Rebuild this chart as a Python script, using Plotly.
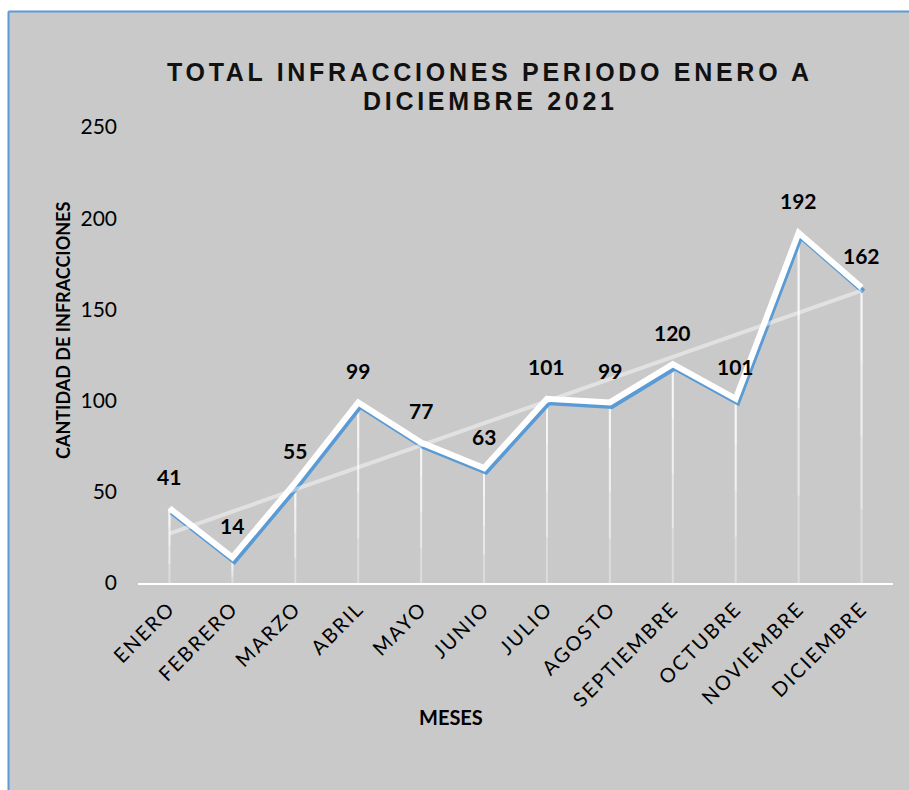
import numpy as np
import plotly.graph_objects as go

# ---- data ----
months = ["ENERO", "FEBRERO", "MARZO", "ABRIL", "MAYO", "JUNIO", "JULIO",
          "AGOSTO", "SEPTIEMBRE", "OCTUBRE", "NOVIEMBRE", "DICIEMBRE"]
infracciones = [41, 14, 55, 99, 77, 63, 101, 99, 120, 101, 192, 162]
y_ticks = [0, 50, 100, 150, 200, 250]
title_lines = ["TOTAL INFRACCIONES PERIODO ENERO A", "DICIEMBRE 2021"]
x_title = "MESES"
y_title = "CANTIDAD DE INFRACCIONES"

# ---- layout geometry ----
W, H = 909, 790
ML, MR, MT, MB = 138, 16, 127, 207
PW, PH = W - ML - MR, H - MT - MB
BG = "#c9c9c9"
BLUE = "#5b9bd5"
FONT = "Lato, 'Open Sans', sans-serif"


def px_x(px):
    return (px - ML) / PW


def px_y(py):
    return (H - MB - py) / PH


n = len(months)
idx = np.arange(n)
slope, intercept = np.polyfit(idx, infracciones, 1)
trend = slope * idx + intercept

yr = [0, 250]
xr = [-0.5, n - 0.5]
# shadow offset (pixels) expressed via axis ranges
sdx, sdy = 2.0, 4.0
xr_sh = [xr[0] - sdx * (n / PW), xr[1] - sdx * (n / PW)]
yr_sh = [yr[0] + sdy * (250 / PH), yr[1] + sdy * (250 / PH)]

fig = go.Figure()

# drop lines (fading towards the axis) - layered error bars
vals = np.array(infracciones, dtype=float)
for frac in [1.0, 0.75, 0.5, 0.25]:
    fig.add_trace(go.Scatter(
        x=months, y=infracciones, mode="markers",
        marker=dict(size=1, color="rgba(0,0,0,0)"),
        error_y=dict(type="data", symmetric=False, array=[0] * n,
                     arrayminus=list(vals * frac), color="rgba(255,255,255,0.35)",
                     thickness=2, width=0),
        hoverinfo="skip", showlegend=False, xaxis="x", yaxis="y"))

# blue shadow line
fig.add_trace(go.Scatter(
    x=months, y=infracciones, mode="lines",
    line=dict(color=BLUE, width=5), showlegend=False,
    xaxis="x2", yaxis="y2", hoverinfo="skip"))

# white main line
fig.add_trace(go.Scatter(
    x=months, y=infracciones, mode="lines",
    line=dict(color="white", width=6), showlegend=False,
    xaxis="x3", yaxis="y3"))

# linear trendline
fig.add_trace(go.Scatter(
    x=months, y=list(trend), mode="lines",
    line=dict(color="rgba(255,255,255,0.45)", width=4), showlegend=False,
    xaxis="x3", yaxis="y3", hoverinfo="skip"))

annotations = []
for m, v in zip(months, infracciones):
    annotations.append(dict(
        x=m, y=v, xref="x", yref="y", text=f"<b>{v}</b>", showarrow=False,
        yshift=32, font=dict(family=FONT, size=21, color="#000")))

spacing = "letter-spacing:3.7px"
for line, py in zip(title_lines, [72, 101]):
    annotations.append(dict(
        x=px_x(490), y=px_y(py), xref="paper", yref="paper",
        text=f"<span style='{spacing}'><b>{line}</b></span>",
        showarrow=False, xanchor="center", yanchor="middle",
        font=dict(family="'Liberation Sans', Arial, sans-serif", size=25, color="#111")))

annotations.append(dict(
    x=px_x(451), y=px_y(717), xref="paper", yref="paper", text=f"<b>{x_title}</b>",
    showarrow=False, xanchor="center", yanchor="middle",
    font=dict(family=FONT, size=20, color="#000")))
annotations.append(dict(
    x=px_x(63), y=px_y(331), xref="paper", yref="paper", text=f"<b>{y_title}</b>",
    showarrow=False, xanchor="center", yanchor="middle", textangle=-90,
    font=dict(family=FONT, size=18, color="#000")))

shapes = [
    dict(type="rect", xref="paper", yref="paper", x0=px_x(0), x1=px_x(W), y0=px_y(0), y1=px_y(11),
         fillcolor="white", line=dict(width=0), layer="below"),
    dict(type="rect", xref="paper", yref="paper", x0=px_x(0), x1=px_x(8), y0=px_y(0), y1=px_y(H),
         fillcolor="white", line=dict(width=0), layer="below"),
    dict(type="line", xref="paper", yref="paper", x0=px_x(8.5), x1=px_x(W), y0=px_y(11.5), y1=px_y(11.5),
         line=dict(color=BLUE, width=2), layer="below"),
    dict(type="line", xref="paper", yref="paper", x0=px_x(8.5), x1=px_x(8.5), y0=px_y(11.5), y1=px_y(H),
         line=dict(color=BLUE, width=2), layer="below"),
]

tick_text = [f"<span style='letter-spacing:2px'>{m}</span>" for m in months]

fig.update_layout(
    width=W, height=H,
    margin=dict(l=ML, r=MR, t=MT, b=MB, autoexpand=False),
    paper_bgcolor=BG, plot_bgcolor="rgba(0,0,0,0)",
    showlegend=False,
    annotations=annotations, shapes=shapes,
    xaxis=dict(type="category", categoryorder="array", categoryarray=months,
               tickvals=months, ticktext=tick_text,
               range=xr, showgrid=False, zeroline=False,
               showline=True, linecolor="white", linewidth=2, ticks="",
               tickangle=-45, ticklabelstandoff=4,
               tickfont=dict(family=FONT, size=20, color="#000")),
    yaxis=dict(range=yr, tickvals=y_ticks, showgrid=False, zeroline=False,
               showline=False, ticks="", ticklabelstandoff=20,
               tickfont=dict(family=FONT, size=21, color="#000")),
    xaxis2=dict(type="category", categoryorder="array", categoryarray=months,
                range=xr_sh, overlaying="x", visible=False),
    yaxis2=dict(range=yr_sh, overlaying="y", visible=False),
    xaxis3=dict(type="category", categoryorder="array", categoryarray=months,
                range=xr, overlaying="x", visible=False),
    yaxis3=dict(range=yr, overlaying="y", visible=False),
)

fig.write_html("out.html", config={"displayModeBar": False},
               post_script="document.body.style.margin='0';document.body.style.overflow='hidden';")
